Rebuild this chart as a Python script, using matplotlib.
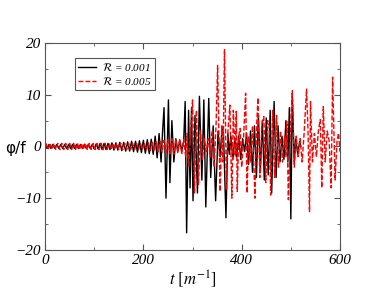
import numpy as np
import matplotlib
matplotlib.use("Agg")
import matplotlib.pyplot as plt
from matplotlib.ticker import MultipleLocator

# data: turning points (t, phi/f)
# early small oscillation, sampled every half period (4 units)
t_early_a = np.arange(0, 220, 4)
v_early_a = [0.3, -0.4, 0.4, -0.4, 0.4, -0.4, 0.4, -0.4, 0.4, -0.4,
             0.4, -0.4, 0.4, -0.4, 0.4, -0.4, 0.4, -0.4, 0.4, -0.4,
             0.4, -0.4, 0.4, -0.4, 0.4, -0.5, 0.5, -0.5, 0.6, -0.6,
             0.6, -0.6, 0.6, -0.6, 0.7, -0.7, 0.7, -0.7, 0.8, -0.8,
             0.8, -0.9, 0.9, -0.9, 1.0, -1.0, 1.0, -1.1, 1.1, -1.2,
             1.2, -1.3, 1.3, -1.4, 1.4]
t_late_a = [220, 224, 228, 232, 236, 239, 242, 246, 251, 254, 258, 262, 266, 270,
            274, 278, 282, 285, 288, 292, 295, 298, 301, 305, 310, 314, 319, 323,
            327, 333, 337, 342, 347, 352, 356, 360, 363, 368, 372, 375, 378, 382,
            386, 390, 394, 398, 402, 406, 410, 414, 418, 422, 426, 430, 434, 438,
            442, 446, 450, 454, 458, 461, 466, 470, 474, 478, 482, 486, 490, 494,
            497, 500, 503, 507, 510, 514, 518, 520]
v_late_a = [-1.5, 2.0, -2.2, 2.5, -3.0, 2.8, 7.5, -10.0, 9.0, -7.0, 5.0, -3.0, 1.5, -1.0,
            1.2, -0.8, 1.0, 8.7, -16.7, 7.0, -8.0, 7.5, -10.5, 6.0, -9.0, 9.7, -6.5, 9.0,
            -11.7, 9.3, -6.0, 4.0, -10.5, 3.0, -2.0, 3.5, 2.5, -13.8, 2.5, -1.5, 2.0, -2.5,
            1.5, -2.0, 2.0, -2.5, 1.5, -1.0, 2.5, -3.5, 3.0, -5.0, 4.0, -6.0, 6.0, -5.0,
            5.0, -6.5, 5.5, -5.5, 7.0, -9.0, 8.7, -6.0, 4.0, -3.0, 2.0, -2.5, 5.0, -3.0,
            7.5, -14.0, 9.7, -3.0, 1.5, -1.5, 1.0, 0.0]

t_early_b = np.arange(2, 284, 4)
v_early_b = [0.6, -0.6, 0.6, -0.6, 0.6, -0.6, 0.6, -0.6, 0.6, -0.6,
             0.6, -0.6, 0.6, -0.6, 0.6, -0.6, 0.6, -0.6, 0.6, -0.6,
             0.6, -0.6, 0.6, -0.6, 0.6, -0.6, 0.6, -0.6, 0.6, -0.6,
             0.6, -0.6, 0.6, -0.6, 0.6, -0.6, 0.6, -0.6, 0.6, -0.6,
             0.6, -0.6, 0.6, -0.6, 0.6, -0.6, 0.6, -0.6, 0.6, -0.6,
             0.7, -0.7, 0.7, -0.8, 0.8, -0.9, 0.9, -1.0, 1.0, -1.1,
             1.2, -1.2, 1.3, -1.4, 1.5, -1.5, 1.4, -1.2, 1.5, -1.5, 1.4]
t_late_b = [286, 289, 292, 296, 300, 304, 308, 312, 316, 320, 324, 328, 332, 336,
            340, 344, 348, 351, 356, 360, 362, 365, 369, 372, 376, 380, 383, 387,
            389, 391, 394, 397, 400, 404, 408, 411, 414, 418, 422, 427, 430, 433,
            437, 441, 445, 449, 453, 456, 459, 463, 467, 471, 475, 479, 483, 487,
            490, 492, 495, 499, 503, 507, 511, 515, 519, 523, 527, 532, 535, 538,
            540, 544, 548, 552, 556, 560, 563, 566, 570, 574, 578, 582, 585, 590,
            594, 597, 600]
v_late_b = [-2.0, 2.5, -4.0, 3.0, 9.0, -9.0, 7.0, -7.5, 3.0, -2.5, 1.5, -1.0, 1.5, -2.0,
            3.0, -4.0, 4.5, 15.7, -8.7, 4.0, -3.0, 18.7, -8.5, 3.0, 8.0, -10.0, 7.0, -2.0,
            6.8, -8.7, 2.0, 3.5, -4.0, 2.0, 10.3, -9.0, 2.0, -3.0, 4.0, -10.0, 3.0, 9.4,
            -6.0, 4.0, 5.8, -7.0, 5.0, 4.0, -9.4, 7.0, -6.0, 6.0, -4.0, 3.0, -3.0, 2.0,
            -2.0, 4.8, -10.3, 3.0, 10.8, -4.0, 2.0, -2.0, 1.5, -3.0, 2.5, 11.1, 3.0, -12.6,
            8.7, -3.0, 2.5, -2.0, 3.0, 5.2, -8.0, 7.7, -3.0, 3.0, 1.0, -8.0, 13.4, -6.5,
            1.0, 2.6, -1.0]

labels = [r'$\mathcal{R}$ = 0.001', r'$\mathcal{R}$ = 0.005']

t_a = np.concatenate([t_early_a, t_late_a])
v_a = np.concatenate([v_early_a, v_late_a])
t_b = np.concatenate([t_early_b, t_late_b])
v_b = np.concatenate([v_early_b, v_late_b])

plt.rcParams['mathtext.fontset'] = 'stix'
serif = 'Liberation Serif'

fig = plt.figure(figsize=(3.82, 2.95), dpi=100)
ax = fig.add_axes([0.118, 0.153, 0.772, 0.701])

ax.plot(t_a, v_a, color='black', lw=1.0, label=labels[0])
ax.plot(t_b, v_b, color='red', lw=1.0, ls=(0, (3.5, 1.5)), label=labels[1])

ax.set_xlim(0, 600)
ax.set_ylim(-20, 20)
ax.xaxis.set_major_locator(MultipleLocator(200))
ax.xaxis.set_minor_locator(MultipleLocator(100))
ax.yaxis.set_major_locator(MultipleLocator(10))
ax.yaxis.set_minor_locator(MultipleLocator(5))
ax.tick_params(which='both', direction='in', top=True, right=True, color='#555555')
ax.tick_params(which='major', length=4, labelsize=11, pad=3)
ax.tick_params(which='minor', length=2)
for lab in ax.get_xticklabels() + ax.get_yticklabels():
    lab.set_fontfamily(serif)
    lab.set_fontstyle('italic')
for s in ax.spines.values():
    s.set_color('#555555')

ax.set_xlabel(r'$t\ [m^{-1}]$', fontsize=12, labelpad=1)
ax.set_ylabel('φ/f', fontsize=11, rotation=0, ha='center', va='center')
ax.yaxis.set_label_coords(-0.1, 0.49)

leg = ax.legend(loc='upper left', bbox_to_anchor=(0.1, 0.93), fancybox=False,
                edgecolor='#555555', framealpha=1, borderpad=0.3, labelspacing=0.15,
                handlelength=1.6, handletextpad=0.6, borderaxespad=0,
                prop={'family': serif, 'style': 'italic', 'size': 8})
leg.get_frame().set_linewidth(0.8)

fig.savefig('out.png', dpi=100)
